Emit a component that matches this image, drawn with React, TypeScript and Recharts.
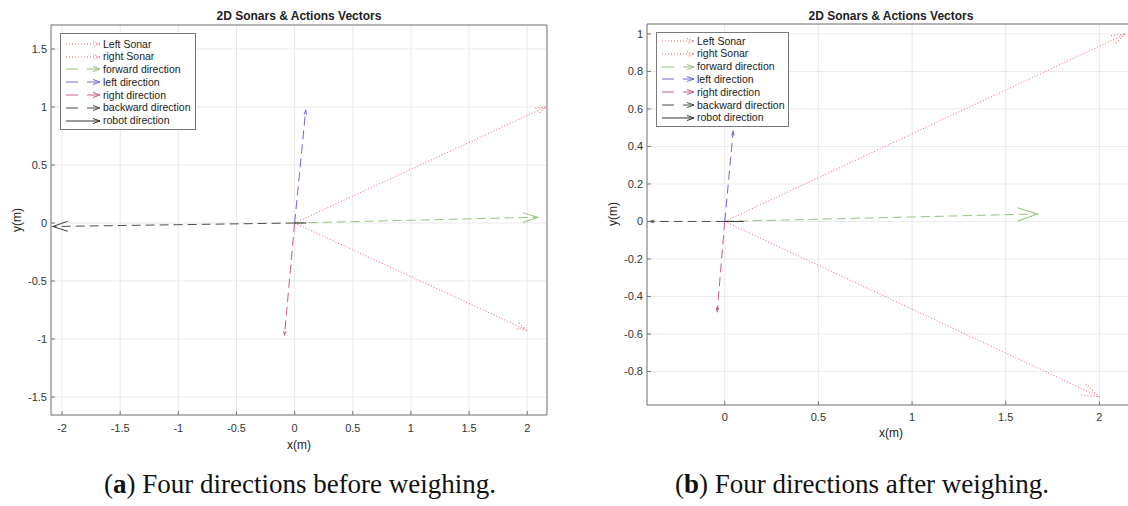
import React from "react";
import { ComposedChart, Line, XAxis, YAxis, CartesianGrid, Legend } from "recharts";

type Pt = { x: number; y: number };

// (a) four directions before weighing
const leftSonarA: Pt[] = [{ x: 0, y: 0 }, { x: 2.16, y: 1.0 }];
const rightSonarA: Pt[] = [{ x: 0, y: 0 }, { x: 1.99, y: -0.92 }];
const forwardA: Pt[] = [{ x: 0, y: 0 }, { x: 2.09, y: 0.05 }];
const leftDirA: Pt[] = [{ x: 0, y: 0 }, { x: 0.095, y: 0.97 }];
const rightDirA: Pt[] = [{ x: 0, y: 0 }, { x: -0.087, y: -0.965 }];
const backwardA: Pt[] = [{ x: 0, y: 0 }, { x: -2.08, y: -0.03 }];
const robotA: Pt[] = [{ x: 0, y: 0 }, { x: 0.1, y: 0 }];

// (b) four directions after weighing
const leftSonarB: Pt[] = [{ x: 0, y: 0 }, { x: 2.14, y: 1.0 }];
const rightSonarB: Pt[] = [{ x: 0, y: 0 }, { x: 2.0, y: -0.936 }];
const forwardB: Pt[] = [{ x: 0, y: 0 }, { x: 1.67, y: 0.04 }];
const leftDirB: Pt[] = [{ x: 0, y: 0 }, { x: 0.045, y: 0.48 }];
const rightDirB: Pt[] = [{ x: 0, y: 0 }, { x: -0.04, y: -0.48 }];
const backwardB: Pt[] = [{ x: 0, y: 0 }, { x: -0.4, y: 0 }];
const robotB: Pt[] = [{ x: 0, y: 0 }, { x: 0.1, y: 0 }];

const xTicksA = [-2, -1.5, -1, -0.5, 0, 0.5, 1, 1.5, 2];
const yTicksA = [-1.5, -1, -0.5, 0, 0.5, 1, 1.5];
const xTicksB = [0, 0.5, 1, 1.5, 2];
const yTicksB = [-0.8, -0.6, -0.4, -0.2, 0, 0.2, 0.4, 0.6, 0.8, 1];

const seriesNames = [
  "Left Sonar",
  "right Sonar",
  "forward direction",
  "left direction",
  "right direction",
  "backward direction",
  "robot direction",
];

const TITLE = "2D Sonars & Actions Vectors";
const FONT = "'Liberation Sans', Arial, Helvetica, sans-serif";
const SERIF = "'Liberation Serif', 'Times New Roman', serif";

const lineStyles = [
  { color: "#e26868", dash: "1 2" },
  { color: "#e26868", dash: "1 2" },
  { color: "#93c47d", dash: "9 5" },
  { color: "#6a6ad8", dash: "9 5" },
  { color: "#c2607a", dash: "9 5" },
  { color: "#4d4d4d", dash: "9 5" },
  { color: "#333333", dash: undefined as string | undefined },
];

type PanelProps = {
  id: string;
  left: number;
  width: number;
  margin: { top: number; right: number; bottom: number; left: number };
  xDomain: [number, number];
  yDomain: [number, number];
  xTicks: number[];
  yTicks: number[];
  series: Pt[][];
  heads: number[];
  xTickMargin: number;
  legendPos: { left: number; top: number; width: number; textLeft: number; padTop: number };
};

function Head({ id, len, color, dash }: { id: string; len: number; color: string; dash?: string }) {
  const hw = len * 0.33;
  return (
    <marker
      id={id}
      markerUnits="userSpaceOnUse"
      markerWidth={len + 4}
      markerHeight={2 * hw + 4}
      viewBox={`${-len - 2} ${-hw - 2} ${len + 4} ${2 * hw + 4}`}
      refX={0}
      refY={0}
      orient="auto"
      overflow="visible"
    >
      <path
        d={`M${-len},${-hw} L0,0 L${-len},${hw}`}
        fill="none"
        stroke={color}
        strokeWidth={1}
        strokeDasharray={dash === "1 2" ? dash : undefined}
      />
    </marker>
  );
}

function LegendBox({ width, textLeft, padTop }: { width: number; textLeft: number; padTop: number }) {
  return (
    <div
      style={{
        width,
        boxSizing: "border-box",
        border: "1px solid #7a7a7a",
        background: "#fff",
        paddingTop: padTop,
        paddingBottom: 2,
        fontFamily: FONT,
        fontSize: 10.5,
        color: "#222",
      }}
    >
      {seriesNames.map((name, i) => {
        const s = lineStyles[i];
        const end = textLeft - 4;
        return (
          <div key={name} style={{ display: "flex", alignItems: "center", height: 12.8 }}>
            <svg width={textLeft - 1} height={10} style={{ flex: "none" }}>
              <line x1={5} x2={end} y1={5} y2={5} stroke={s.color} strokeDasharray={s.dash ? (s.dash === "1 2" ? "1 2" : "12 9") : undefined} />
              <path d={`M${end - 7},2.5 L${end},5 L${end - 7},7.5`} fill="none" stroke={s.color} strokeDasharray={s.dash === "1 2" ? "1 1.5" : undefined} />
            </svg>
            <span style={{ whiteSpace: "nowrap", lineHeight: "12.8px" }}>{name}</span>
          </div>
        );
      })}
    </div>
  );
}

function Panel(p: PanelProps) {
  const tick = { fontSize: 11, fill: "#333", fontFamily: FONT };
  return (
    <div style={{ position: "absolute", left: p.left, top: 0 }}>
      <ComposedChart width={p.width} height={460} margin={p.margin}>
        <CartesianGrid stroke="#e9e9e9" />
        <XAxis
          xAxisId={0}
          dataKey="x"
          type="number"
          domain={p.xDomain}
          ticks={p.xTicks}
          interval={0}
          allowDataOverflow
          height={30}
          tickSize={-4}
          tickMargin={p.xTickMargin}
          tick={tick}
          stroke="#777"
        />
        <XAxis
          xAxisId="top"
          orientation="top"
          type="number"
          domain={p.xDomain}
          ticks={p.xTicks}
          interval={0}
          allowDataOverflow
          height={1}
          tickSize={-4}
          tick={false}
          stroke="#777"
        />
        <YAxis
          yAxisId={0}
          type="number"
          domain={p.yDomain}
          ticks={p.yTicks}
          interval={0}
          allowDataOverflow
          width={40}
          tickSize={-4}
          tickMargin={8}
          tick={tick}
          stroke="#777"
        />
        <YAxis
          yAxisId="right"
          orientation="right"
          type="number"
          domain={p.yDomain}
          ticks={p.yTicks}
          interval={0}
          allowDataOverflow
          width={1}
          tickSize={-4}
          tick={false}
          stroke="#777"
        />
        {p.series.map((data, i) => (
          <Line
            key={seriesNames[i]}
            name={seriesNames[i]}
            data={data}
            dataKey="y"
            type="linear"
            stroke={lineStyles[i].color}
            strokeWidth={1}
            strokeDasharray={lineStyles[i].dash}
            dot={false}
            activeDot={false}
            isAnimationActive={false}
            markerEnd={p.heads[i] > 0 ? `url(#${p.id}-h${i})` : undefined}
          />
        ))}
        <Legend
          layout="vertical"
          align="center"
          verticalAlign="middle"
          wrapperStyle={{ left: p.legendPos.left, top: p.legendPos.top, width: p.legendPos.width }}
          content={() => (
            <LegendBox width={p.legendPos.width} textLeft={p.legendPos.textLeft} padTop={p.legendPos.padTop} />
          )}
        />
      </ComposedChart>
    </div>
  );
}

const textBase: React.CSSProperties = {
  position: "absolute",
  transform: "translate(-50%, -50%)",
  whiteSpace: "nowrap",
  fontFamily: FONT,
  color: "#222",
};

export default function App() {
  const headsA = [10, 9, 15, 4, 4, 15, 0];
  const headsB = [14, 18, 20, 4, 4, 4, 0];
  return (
    <div style={{ position: "absolute", left: 0, top: 0, width: 1128, height: 506, overflow: "hidden", background: "#fff" }}>
      <svg width={0} height={0} style={{ position: "absolute" }}>
        <defs>
          {headsA.map((len, i) =>
            len > 0 ? <Head key={`a${i}`} id={`pa-h${i}`} len={len} color={lineStyles[i].color} dash={lineStyles[i].dash} /> : null
          )}
          {headsB.map((len, i) =>
            len > 0 ? <Head key={`b${i}`} id={`pb-h${i}`} len={len} color={lineStyles[i].color} dash={lineStyles[i].dash} /> : null
          )}
        </defs>
      </svg>

      <Panel
        id="pa"
        left={0}
        width={560}
        margin={{ top: 24, right: 12, bottom: 15, left: 11 }}
        xDomain={[-2.095, 2.17]}
        yDomain={[-1.655, 1.707]}
        xTicks={xTicksA}
        yTicks={yTicksA}
        series={[leftSonarA, rightSonarA, forwardA, leftDirA, rightDirA, backwardA, robotA]}
        heads={headsA}
        xTickMargin={13}
        legendPos={{ left: 60, top: 33, width: 136, textLeft: 43, padTop: 3.5 }}
      />
      <Panel
        id="pb"
        left={596}
        width={560}
        margin={{ top: 23, right: 20, bottom: 25, left: 11 }}
        xDomain={[-0.415, 2.19]}
        yDomain={[-0.979, 1.053]}
        xTicks={xTicksB}
        yTicks={yTicksB}
        series={[leftSonarB, rightSonarB, forwardB, leftDirB, rightDirB, backwardB, robotB]}
        heads={headsB}
        xTickMargin={12}
        legendPos={{ left: 60, top: 32, width: 133, textLeft: 41, padTop: 1.6 }}
      />

      <div style={{ ...textBase, left: 299, top: 16, fontSize: 12, fontWeight: "bold" }}>{TITLE}</div>
      <div style={{ ...textBase, left: 891, top: 16, fontSize: 12, fontWeight: "bold" }}>{TITLE}</div>
      <div style={{ ...textBase, left: 299, top: 445, fontSize: 12 }}>x(m)</div>
      <div style={{ ...textBase, left: 891, top: 433, fontSize: 12 }}>x(m)</div>
      <div style={{ ...textBase, left: 17, top: 220, fontSize: 12, transform: "translate(-50%, -50%) rotate(-90deg)" }}>y(m)</div>
      <div style={{ ...textBase, left: 613, top: 214, fontSize: 12, transform: "translate(-50%, -50%) rotate(-90deg)" }}>y(m)</div>

      <div style={{ ...textBase, left: 300, top: 484, fontSize: 27, fontFamily: SERIF, color: "#111" }}>
        (<b>a</b>) Four directions before weighing.
      </div>
      <div style={{ ...textBase, left: 862, top: 484, fontSize: 27, fontFamily: SERIF, color: "#111" }}>
        (<b>b</b>) Four directions after weighing.
      </div>
    </div>
  );
}
